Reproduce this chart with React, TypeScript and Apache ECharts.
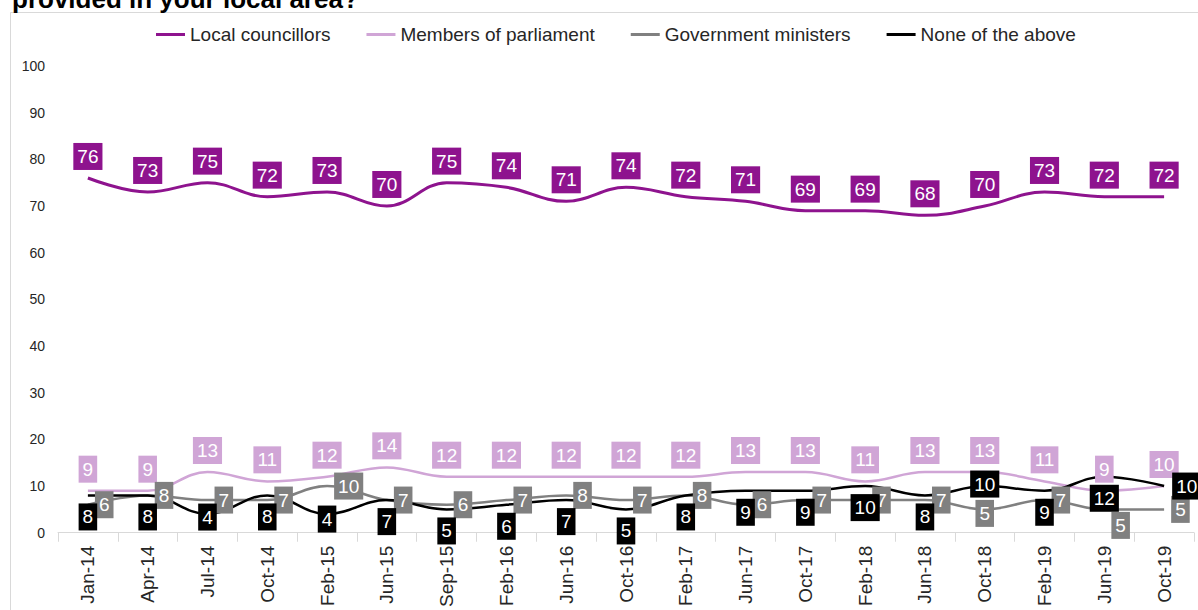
import React, { useEffect, useRef } from "react";
import * as echarts from "echarts";

const categories = [
  "Jan-14", "Apr-14", "Jul-14", "Oct-14", "Feb-15", "Jun-15", "Sep-15", "Feb-16", "Jun-16", "Oct-16",
  "Feb-17", "Jun-17", "Oct-17", "Feb-18", "Jun-18", "Oct-18", "Feb-19", "Jun-19", "Oct-19",
];
const localCouncillors = [76, 73, 75, 72, 73, 70, 75, 74, 71, 74, 72, 71, 69, 69, 68, 70, 73, 72, 72];
const membersOfParliament = [9, 9, 13, 11, 12, 14, 12, 12, 12, 12, 12, 13, 13, 11, 13, 13, 11, 9, 10];
const governmentMinisters = [6, 8, 7, 7, 10, 7, 6, 7, 8, 7, 8, 6, 7, 7, 7, 5, 7, 5, 5];
const noneOfTheAbove = [8, 8, 4, 8, 4, 7, 5, 6, 7, 5, 8, 9, 9, 10, 8, 10, 9, 12, 10];

const seriesNames = ["Local councillors", "Members of parliament", "Government ministers", "None of the above"];
const seriesColors = ["#8E138E", "#D0A5D6", "#808080", "#000000"];

// manual label placements (by category index)
const ministersLabelOverrides: Record<number, any> = {
  15: { position: "inside", offset: [0, 4] },
  17: { position: "right", offset: [0, 16] },
};
const noneLabelOverrides: Record<number, any> = {
  2: { position: "inside", offset: [0, 3] },
  4: { position: "inside", offset: [0, 5] },
  15: { position: "inside", offset: [0, -2] },
  18: { position: "right" },
};

const FONT = "'Liberation Sans', Arial, sans-serif";

function makeSeries(name: string, values: number[], color: string, width: number, position: string, distance: number, overrides: Record<number, any> = {}) {
  return {
    name,
    type: "line",
    smooth: 0.4,
    symbol: "circle",
    symbolSize: 0.1,
    showSymbol: true,
    itemStyle: { color },
    lineStyle: { color, width },
    label: {
      show: true,
      position,
      distance,
      color: "#ffffff",
      backgroundColor: color,
      padding: [4, 4, 4, 4],
      fontSize: 19,
      lineHeight: 19,
      fontFamily: FONT,
    },
    data: values.map((v, i) => (overrides[i] ? { value: v, label: overrides[i] } : v)),
    z: 2,
  };
}

export default function App() {
  const ref = useRef<HTMLDivElement>(null);
  useEffect(() => {
    if (!ref.current) return;
    const chart = echarts.init(ref.current, null, { renderer: "svg" });
    chart.setOption({
      animation: false,
      backgroundColor: "#ffffff",
      textStyle: { fontFamily: FONT },
      graphic: [
        {
          type: "rect",
          shape: { x: 10.5, y: 12.5, width: 1400, height: 800 },
          style: { fill: "none", stroke: "#d9d9d9", lineWidth: 1 },
          silent: true,
        },
        {
          type: "text",
          x: 12,
          y: -1,
          style: {
            text: "provided in your local area?",
            font: `bold 26px ${FONT}`,
            fill: "#000000",
            verticalAlign: "middle",
          },
        },
      ],
      legend: {
        top: 20,
        left: 151,
        icon: "rect",
        itemWidth: 29,
        itemHeight: 3,
        itemGap: 36,
        data: seriesNames,
        textStyle: { fontSize: 19, color: "#262626", fontFamily: FONT },
      },
      grid: { left: 58, right: 4, top: 66, bottom: 76, containLabel: false },
      xAxis: {
        type: "category",
        data: categories,
        boundaryGap: true,
        axisLine: { lineStyle: { color: "#d9d9d9", width: 1 } },
        axisTick: { show: true, length: 9, lineStyle: { color: "#d9d9d9" } },
        axisLabel: { rotate: 90, interval: 0, fontSize: 19, color: "#262626", margin: 13, fontFamily: FONT },
        splitLine: { show: false },
      },
      yAxis: {
        type: "value",
        min: 0,
        max: 100,
        interval: 10,
        axisLine: { show: false },
        axisTick: { show: false },
        splitLine: { show: false },
        axisLabel: { fontSize: 14, color: "#262626", margin: 13, fontFamily: FONT },
      },
      series: [
        makeSeries(seriesNames[0], localCouncillors, seriesColors[0], 3, "top", 8),
        makeSeries(seriesNames[1], membersOfParliament, seriesColors[1], 2.5, "top", 8),
        makeSeries(seriesNames[2], governmentMinisters, seriesColors[2], 2.5, "right", 7, ministersLabelOverrides),
        makeSeries(seriesNames[3], noneOfTheAbove, seriesColors[3], 2.5, "bottom", 8, noneLabelOverrides),
      ],
    });
    return () => chart.dispose();
  }, []);
  return (
    <div
      ref={ref}
      style={{ position: "fixed", left: 0, top: 0, width: 1198, height: 610 }}
    />
  );
}
